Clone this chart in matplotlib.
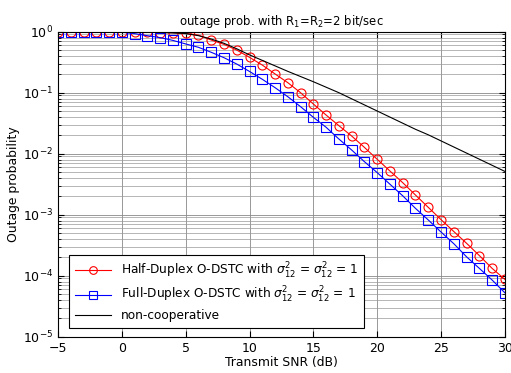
import numpy as np
import matplotlib
matplotlib.use('Agg')
import matplotlib.pyplot as plt
from matplotlib.ticker import LogLocator, NullFormatter

# transmit SNR (dB)
snr_db = np.arange(-5, 31)

# half-duplex O-DSTC (red circles)
p_half = [1.0, 1.0, 1.0, 1.0, 1.0, 0.99, 0.985, 0.98, 0.97, 0.96,
          0.94, 0.88, 0.73, 0.62, 0.50, 0.38, 0.284, 0.203, 0.146, 0.10,
          0.0653, 0.043, 0.0288, 0.0195, 0.0127, 0.0081, 0.0052, 0.00335,
          0.0021, 0.00132, 0.00083, 0.00053, 0.00034, 0.000214, 0.000132,
          0.000087]

# full-duplex O-DSTC (blue squares)
p_full = [1.0, 1.0, 1.0, 1.0, 1.0, 0.98, 0.93, 0.86, 0.80, 0.72,
          0.63, 0.555, 0.46, 0.375, 0.295, 0.223, 0.166, 0.121, 0.086,
          0.059, 0.0395, 0.0271, 0.0174, 0.0115, 0.0074, 0.0049, 0.00316,
          0.00204, 0.00127, 0.00082, 0.00052, 0.000335, 0.000204, 0.000132,
          0.000085, 0.0000525]

# non-cooperative (black), log10 values
log_noncoop = [0.0, 0.0, 0.0, 0.0, 0.0, -0.003, -0.005, -0.008, -0.012,
               -0.02, -0.03, -0.065, -0.12, -0.19, -0.28, -0.38, -0.47,
               -0.56, -0.65, -0.735, -0.82, -0.91, -1.00, -1.10, -1.20,
               -1.30, -1.40, -1.50, -1.60, -1.69, -1.79, -1.89, -1.99,
               -2.09, -2.19, -2.29]
p_noncoop = 10.0 ** np.array(log_noncoop)

s_lab = r'with $\sigma_{12}^2$ = $\sigma_{12}^2$ = 1'
l_labels = ['Half-Duplex O-DSTC ' + s_lab,
            'Full-Duplex O-DSTC ' + s_lab,
            'non-cooperative']

fig = plt.figure(figsize=(5.11, 3.73), dpi=100)
ax = fig.add_axes([0.1135, 0.0973, 0.8745, 0.8177])

ax.semilogy(snr_db, p_half, 'r-o', lw=0.8, ms=6.5, mfc='none', mew=0.8,
            label=l_labels[0])
ax.semilogy(snr_db, p_full, 'b-s', lw=0.8, ms=6.5, mfc='none', mew=0.8,
            label=l_labels[1])
ax.semilogy(snr_db, p_noncoop, 'k-', lw=0.8, label=l_labels[2])

ax.set_xlim(-5, 30)
ax.set_ylim(1e-5, 1)
ax.set_xticks(np.arange(-5, 31, 5))
ax.yaxis.set_major_locator(LogLocator(base=10, numticks=10))
ax.yaxis.set_minor_locator(LogLocator(base=10, subs=np.arange(2, 10),
                                      numticks=20))
ax.yaxis.set_minor_formatter(NullFormatter())

ax.grid(True, which='major', color='#888888', lw=0.6)
ax.grid(True, which='minor', axis='y', color='#999999', lw=0.5)
ax.tick_params(which='both', direction='in', top=True, right=True,
               labelsize=9)
ax.tick_params(which='major', length=4)
ax.tick_params(which='minor', length=2)
for sp in ax.spines.values():
    sp.set_linewidth(0.8)

ax.set_title(r'outage prob. with R$_1$=R$_2$=2 bit/sec', fontsize=8.4,
             pad=5)
ax.set_xlabel('Transmit SNR (dB)', fontsize=8.9, labelpad=1)
ax.set_ylabel('Outage probability', fontsize=8.9, labelpad=2)

leg = ax.legend(loc='lower left', bbox_to_anchor=(0.012, 0.01),
                fontsize=8.7, fancybox=False, framealpha=1, edgecolor='black',
                handlelength=3.0, labelspacing=0.35, borderpad=0.45,
                markerscale=0.85)
leg.get_frame().set_linewidth(0.8)

fig.savefig('out.png', dpi=100)
